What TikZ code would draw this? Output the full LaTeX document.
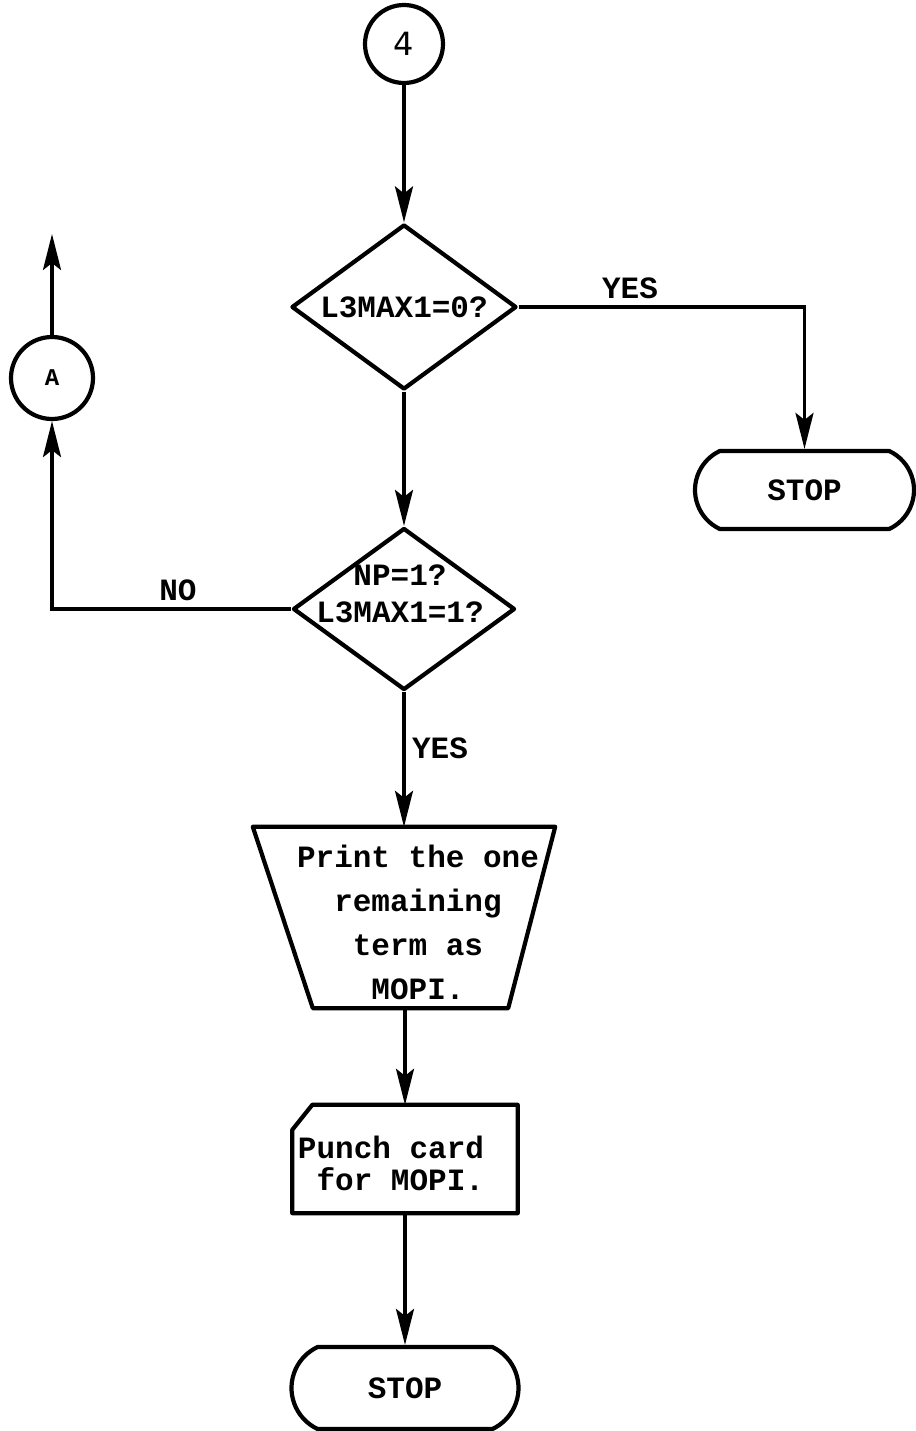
\documentclass[tikz,border=0pt]{standalone}
\usepackage{fontspec}
\setmonofont{Liberation Mono}
\newfontfamily\handfont{DejaVu Sans}
\usetikzlibrary{shapes.geometric,shapes.misc,arrows.meta}

\begin{document}
\begin{tikzpicture}[x=1pt,y=-1pt,
  every node/.style={font=\ttfamily\bfseries\fontsize{31}{37}\selectfont,inner sep=0pt},
  flow/.style={line width=3.4pt},
  arr/.style={flow,-{Stealth[length=36pt,width=18pt,inset=7pt]}},
  outline/.style={draw,line width=4.2pt,line join=round},
  connector/.style={outline,circle},
  decision/.style={outline,diamond},
  terminal/.style={outline,rounded rectangle,rounded rectangle arc length=130},
  plain/.style={draw=none},
]
\useasboundingbox (0,0) rectangle (915,1431);

% entry connector
\node[connector,minimum size=78pt,font=\handfont\fontsize{32}{34}\selectfont] (c4) at (404,44) {4};

% first test
\node[decision,aspect=1.36,minimum width=225pt,minimum height=165pt] (d1) at (404,307) {L3MAX1=0?};

% stop on the right
\node[terminal,minimum width=219pt,minimum height=78pt] (s1) at (804.5,490) {STOP};

% second test
\node[decision,aspect=1.37,minimum width=222pt,minimum height=162pt] (d2) at (404,609) {};
\node[align=center] (d2t) at (400,594) {NP=1?\\L3MAX1=1?};

% off-page connector A
\node[connector,minimum size=82pt,font=\ttfamily\bfseries\fontsize{24}{26}\selectfont] (ca) at (52,378) {A};
\coordinate (up) at (52,234);

% print (trapezoid)
\node[plain,minimum width=302pt,minimum height=181pt] (tr) at (404,917.5) {};
\draw[outline] (tr.north west) -- (tr.north east) -- ([xshift=-47pt]tr.south east)
  -- ([xshift=60pt]tr.south west) -- cycle;
\node[align=center,font=\ttfamily\bfseries\fontsize{31}{44}\selectfont] (trt) at (418,922)
  {Print the one\\remaining\\term as\\MOPI.};

% punch card
\node[plain,minimum width=225pt,minimum height=108pt] (card) at (405,1159) {};
\draw[outline] ([xshift=20pt]card.north west) -- (card.north east) -- (card.south east)
  -- (card.south west) -- ([yshift=-25pt]card.north west) -- cycle;
\node[align=right,font=\ttfamily\bfseries\fontsize{31}{32}\selectfont] (cardt) at (391,1163)
  {Punch card\\for MOPI.};

% final stop
\node[terminal,minimum width=227pt,minimum height=82pt] (s2) at (405,1388) {STOP};

% connectors
\draw[arr] (c4) -- (d1);
\draw[arr] (d1.east) -| (s1.north);
\draw[arr] (d1) -- (d2);
\draw[arr] (d2.west) -| (ca.south);
\draw[arr] (ca.north) -- (up);
\draw[arr] (d2.south) -- (d2.south |- tr.north);
\draw[arr] (tr.south -| card.north) -- (card.north);
\draw[arr] (card.south) -- (s2.north);

% branch labels
\node (yes1) at (630,288) {YES};
\node (no) at (178,590) {NO};
\node (yes2) at (440,748) {YES};
\end{tikzpicture}
\end{document}
